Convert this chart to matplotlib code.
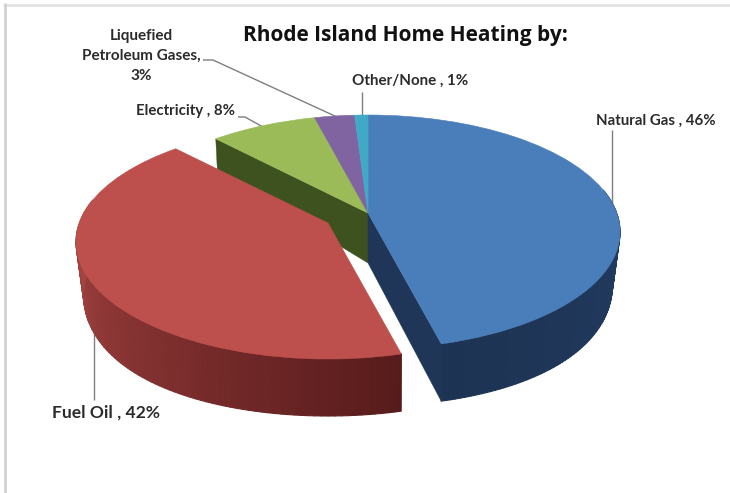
import numpy as np
import matplotlib
matplotlib.use("Agg")
import matplotlib.pyplot as plt
from matplotlib.collections import PolyCollection
from matplotlib.colors import to_rgb
from matplotlib.transforms import Transform

# ---- data
categories = ["Natural Gas", "Fuel Oil", "Electricity", "Liquefied Petroleum Gases", "Other/None"]
values = [46, 42, 8, 3, 1]
label_texts = ["Natural Gas , 46%", "Fuel Oil , 42%", "Electricity , 8%",
               "Liquefied\nPetroleum Gases,\n3%", "Other/None , 1%"]
colors = ["#4a7ebb", "#bd4f4c", "#9bbb59", "#8064a2", "#3fa9c6"]
title = "Rhode Island Home Heating by:"


class Disc(Transform):
    """Perspective view of the unit pie disc, in pixel units of the canvas axes.
    ex is the perspective used for x, e the one used for y; narrow > 0 pulls
    the far left/right of the disc in (used for the lower rim)."""
    input_dims = output_dims = 2

    def __init__(self, cx, cy, rx, ry, e, ex, narrow=0.0, dx=0.0, dy=0.0):
        super().__init__()
        self.p = (cx, cy, rx, ry, e, ex, narrow, dx, dy)

    def transform_non_affine(self, values):
        cx, cy, rx, ry, e, ex, narrow, dx, dy = self.p
        v = np.asarray(values, float)
        X = v[:, 0] * np.sqrt(1 - ex * ex) / (1 + ex * v[:, 1])
        Y = (v[:, 1] + e) / (1 + e * v[:, 1])
        X = X * (1 - narrow * X * X)
        return np.column_stack([cx + dx + rx * X, cy + dy - ry * Y])


fig = plt.figure(figsize=(7.30, 4.93), dpi=100, facecolor="white")
ax = fig.add_axes([0, 0, 1, 1])
wedges, _ = ax.pie(values, colors=colors, startangle=90, counterclock=False,
                   radius=1, wedgeprops=dict(linewidth=0))
ax.set_aspect("auto")
ax.set_xlim(0, 730)
ax.set_ylim(493, 0)
ax.set_axis_off()

TOP = (368, 232, 252, 117, 0.162, 0.162, 0.0)
BOT = (368, 273, 252, 133, 0.075, 0.162, 0.03)
EXPLODE = (-40, 10)


def pt(spec, theta, off=(0, 0)):
    t = np.radians(np.atleast_1d(theta))
    return Disc(*spec, *off).transform_non_affine(np.column_stack([np.cos(t), np.sin(t)]))


def origin(spec, off=(0, 0)):
    return Disc(*spec, *off).transform_non_affine(np.array([[0.0, 0.0]]))[0]


def side(theta_a, theta_b, c_a, c_b, off=(0, 0), z=2):
    th = np.linspace(theta_a, theta_b, 90)
    a, b = pt(TOP, th, off), pt(BOT, th, off)
    polys = [[a[i], a[i + 1], b[i + 1], b[i]] for i in range(len(th) - 1)]
    ca, cb = np.array(to_rgb(c_a)), np.array(to_rgb(c_b))
    cols = [ca + (cb - ca) * i / (len(polys) - 1) for i in range(len(polys))]
    ax.add_collection(PolyCollection(polys, facecolors=cols, edgecolors=cols,
                                     linewidths=0.8, zorder=z))


def cut_face(theta, color, z=1):
    q = np.array([origin(TOP), pt(TOP, theta)[0], pt(BOT, theta)[0], origin(BOT)])
    ax.fill(q[:, 0], q[:, 1], color=color, lw=0.3, zorder=z)


blue, red, green = wedges[0], wedges[1], wedges[2]
blue_lo = min(blue.theta1, blue.theta2)
red_lo = min(red.theta1, red.theta2)
red_hi = max(red.theta1, red.theta2)

cut_face(red_lo, "#3e5220", 1)           # electricity cut face
cut_face(blue_lo, "#1f3658", 1)          # natural gas cut face
side(blue_lo, 12, "#1d3353", "#223c62", z=2)
side(red_hi, -192, "#581b1b", "#b04a47", off=EXPLODE, z=2)

for i, w in enumerate(wedges):
    off = EXPLODE if i == 1 else (0, 0)
    w.set_transform(Disc(*TOP, *off) + ax.transData)
    w.set_zorder(4 if i == 1 else 3)
    w.set_edgecolor(colors[i])
    w.set_linewidth(0.4)

# ---- title and labels
FONT = "Lato"
TXT = "#2b2b2b"
ax.text(405, 35, title, ha="center", va="center", fontsize=15, fontweight="bold",
        family="Open Sans", color="#111111", zorder=6)
ax.text(656, 121, label_texts[0], ha="center", va="center", fontsize=10.8,
        fontweight="bold", family=FONT, color=TXT, zorder=6)
ax.text(106.5, 413, label_texts[1], ha="center", va="center", fontsize=12.6,
        fontweight="bold", family=FONT, color=TXT, zorder=6)
ax.text(185.5, 111, label_texts[2], ha="center", va="center", fontsize=10.8,
        fontweight="bold", family=FONT, color=TXT, zorder=6)
ax.text(141, 56, label_texts[3], ha="center", va="center", fontsize=11,
        fontweight="bold", family=FONT, color=TXT, linespacing=1.55, zorder=6)
ax.text(410, 81, label_texts[4], ha="center", va="center", fontsize=10.9,
        fontweight="bold", family=FONT, color=TXT, zorder=6)

# ---- leader lines (behind the pie where they meet it)
leaders = [([612, 612], [130, 205]),
           ([94, 94], [320, 400]),
           ([238, 245, 263], [117, 117, 127]),
           ([203, 213, 337], [60, 60, 117]),
           ([362, 362], [92, 117])]
for xs, ys in leaders:
    ax.plot(xs, ys, color="#7f7f7f", lw=1.0, zorder=0.5, solid_capstyle="butt")

# ---- faint frame of the source image
ax.plot([3, 730], [4.5, 4.5], color="#e2e2e2", lw=2, zorder=0, solid_capstyle="butt")
ax.plot([4.5, 4.5], [3, 493], color="#d2d2d2", lw=2, zorder=0, solid_capstyle="butt")

fig.savefig("out.png", dpi=100, facecolor="white")
